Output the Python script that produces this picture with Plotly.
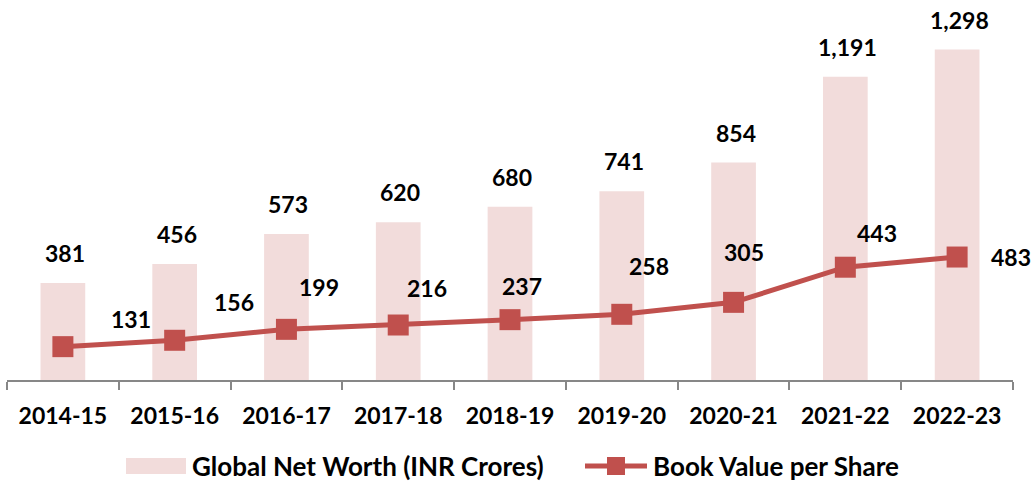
import plotly.graph_objects as go

years = ["2014-15", "2015-16", "2016-17", "2017-18", "2018-19",
         "2019-20", "2020-21", "2021-22", "2022-23"]
net_worth = [381, 456, 573, 620, 680, 741, 854, 1191, 1298]
book_value = [131, 156, 199, 216, 237, 258, 305, 443, 483]
series_names = ["Global Net Worth (INR Crores)", "Book Value per Share"]

# label offsets (pixels) for the line labels, as placed in the reference
bv_label_dx = [68, 59, 33, 29, 12, 27, 10, 32, 54]
bv_label_dy = [28, 38, 42, 37, 34, 48, 50, 34, 0]

BAR_COLOR = "#F2DCDB"
LINE_COLOR = "#C0504D"
FONT = dict(family="Lato", size=23, color="#000000", weight="bold")
LEG_FONT = dict(family="Lato", size=26, color="#000000", weight="bold")

W, H = 1035, 482
L, R, T, B = 7, 22, 20, 102
PW, PH = W - L - R, H - T - B


def px(x):
    return (x - L) / PW


def py(y):
    return (H - B - y) / PH


fig = go.Figure()
fig.add_trace(go.Bar(
    x=years, y=net_worth, name=series_names[0],
    marker=dict(color=BAR_COLOR, line=dict(width=0)),
))
fig.add_trace(go.Scatter(
    x=years, y=book_value, name=series_names[1],
    mode="lines+markers",
    line=dict(color=LINE_COLOR, width=5),
    marker=dict(symbol="square", size=21, color=LINE_COLOR),
))

annotations = []
for yr, v in zip(years, net_worth):
    annotations.append(dict(
        x=yr, y=v, text=f"{v:,}", showarrow=False, xshift=2, yshift=30,
        font=FONT, xanchor="center", yanchor="middle"))
for yr, v, dx, dy in zip(years, book_value, bv_label_dx, bv_label_dy):
    annotations.append(dict(
        x=yr, y=v, text=f"{v:,}", showarrow=False, xshift=dx, yshift=dy,
        font=FONT, xanchor="center", yanchor="middle"))

# legend (drawn to match the reference's wide swatches)
annotations.append(dict(xref="paper", yref="paper", x=px(190), y=py(466),
                        text=series_names[0], showarrow=False, xanchor="left",
                        yanchor="middle", font=LEG_FONT))
annotations.append(dict(xref="paper", yref="paper", x=px(651), y=py(466),
                        text=series_names[1], showarrow=False, xanchor="left",
                        yanchor="middle", font=LEG_FONT))
shapes = [
    dict(type="rect", xref="paper", yref="paper", x0=px(126), x1=px(186),
         y0=py(474), y1=py(458), fillcolor=BAR_COLOR, line=dict(width=0)),
    dict(type="line", xref="paper", yref="paper", x0=px(585), x1=px(647),
         y0=py(466), y1=py(466), line=dict(color=LINE_COLOR, width=5)),
    dict(type="rect", xref="paper", yref="paper", x0=px(607), x1=px(625),
         y0=py(475), y1=py(457), fillcolor=LINE_COLOR, line=dict(width=0)),
]

fig.update_layout(
    width=W, height=H,
    margin=dict(l=L, r=R, t=T, b=B, autoexpand=False),
    paper_bgcolor="white", plot_bgcolor="white",
    bargap=0.6,
    showlegend=False,
    hovermode=False,
    annotations=annotations,
    shapes=shapes,
    xaxis=dict(showline=True, linecolor="#878787", linewidth=2,
               ticks="outside", tickson="boundaries", ticklen=8,
               tickwidth=2, tickcolor="#878787", showgrid=False,
               ticklabelstandoff=14, automargin=False,
               tickfont=FONT, range=[-0.5, 8.5]),
    yaxis=dict(visible=False, range=[0, 1414], showgrid=False,
               automargin=False),
)

fig.write_html("out.html", config={"displayModeBar": False},
               post_script="document.body.style.margin='0';"
                           "document.body.style.overflow='hidden';")
